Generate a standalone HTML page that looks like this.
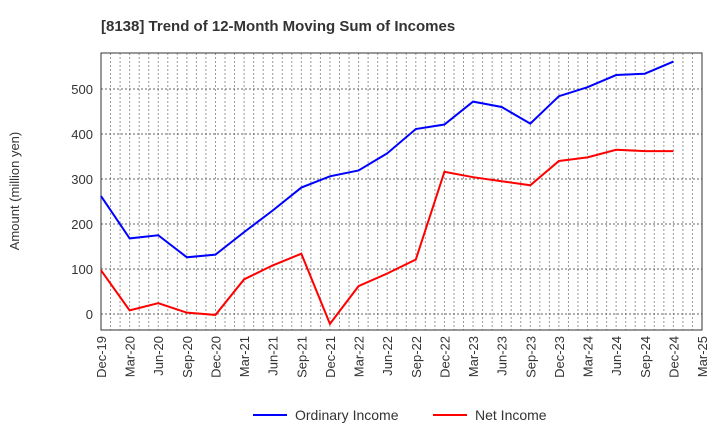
<!DOCTYPE html>
<html><head><meta charset="utf-8"><style>
body{margin:0;background:#fff;font-family:"Liberation Sans",sans-serif;}
</style></head><body>
<svg id="chart" width="720" height="440" xmlns="http://www.w3.org/2000/svg" font-family="Liberation Sans, sans-serif">
<text x="101" y="31" font-size="15" font-weight="bold" fill="#333">[8138]  Trend of 12-Month Moving Sum of Incomes</text>
<text transform="translate(19,191) rotate(-90)" text-anchor="middle" font-size="13" fill="#333">Amount (million yen)</text>
<g id="grid"></g><g id="axes"></g><g id="series"></g>
<g>
<line x1="253" y1="415" x2="287" y2="415" stroke="#0000ff" stroke-width="2"/>
<text x="295" y="420" font-size="14" fill="#333">Ordinary Income</text>
<line x1="433" y1="415" x2="467" y2="415" stroke="#ff0000" stroke-width="2"/>
<text x="475" y="420" font-size="14" fill="#333">Net Income</text>
</g>
</svg>
<script>
const categories=["Dec-19","Mar-20","Jun-20","Sep-20","Dec-20","Mar-21","Jun-21","Sep-21","Dec-21","Mar-22","Jun-22","Sep-22","Dec-22","Mar-23","Jun-23","Sep-23","Dec-23","Mar-24","Jun-24","Sep-24","Dec-24","Mar-25"];
const ordinaryIncome=[262,168,175,126,132,182,230,281,306,319,357,411,421,472,460,423,484,504,531,534,561];
const netIncome=[97,8,24,3,-2,77,108,134,-22,62,90,121,316,304,295,286,340,348,365,362,362];
const yTicks=[0,100,200,300,400,500];
const L=101,R=702,T=53,B=330;
const x=i=>L+i*(R-L)/(categories.length-1);
const y=v=>314-v*0.45;
const NS="http://www.w3.org/2000/svg";
function mk(tag,attrs,parent){const e=document.createElementNS(NS,tag);for(const k in attrs)e.setAttribute(k,attrs[k]);parent.appendChild(e);return e;}
const grid=document.getElementById('grid'),axes=document.getElementById('axes'),series=document.getElementById('series');
for(let m=1;m<(categories.length-1)*3;m++){const xx=L+m*(R-L)/((categories.length-1)*3);
const g=mk('line',{x1:xx,x2:xx,y1:T,y2:B,stroke:'#999','stroke-width':1,'stroke-dasharray':'2,2'},grid);

}
yTicks.forEach(v=>{const yy=y(v);
const g=mk('line',{x1:L,x2:R,y1:yy,y2:yy,stroke:'#666','stroke-width':1,'stroke-dasharray':'2,2'},grid);


const t=mk('text',{x:L-8,y:yy+5,'text-anchor':'end','font-size':13,fill:'#333'},axes);t.textContent=v;

});
const frame=mk('rect',{x:L,y:T,width:R-L,height:B-T,fill:'none',stroke:'#333','stroke-width':1},axes);


categories.forEach((c,i)=>{const xx=x(i);
const t=mk('text',{transform:`translate(${xx+5},${B+6}) rotate(-90)`,'text-anchor':'end','font-size':13,fill:'#333'},axes);t.textContent=c;

});
function line(data,color,name){const p=mk('polyline',{points:data.map((v,i)=>x(i)+','+y(v)).join(' '),fill:'none',stroke:color,'stroke-width':2},series);

}
line(ordinaryIncome,'#0000ff','ordinary-income-line');
line(netIncome,'#ff0000','net-income-line');
</script>
</body></html>
